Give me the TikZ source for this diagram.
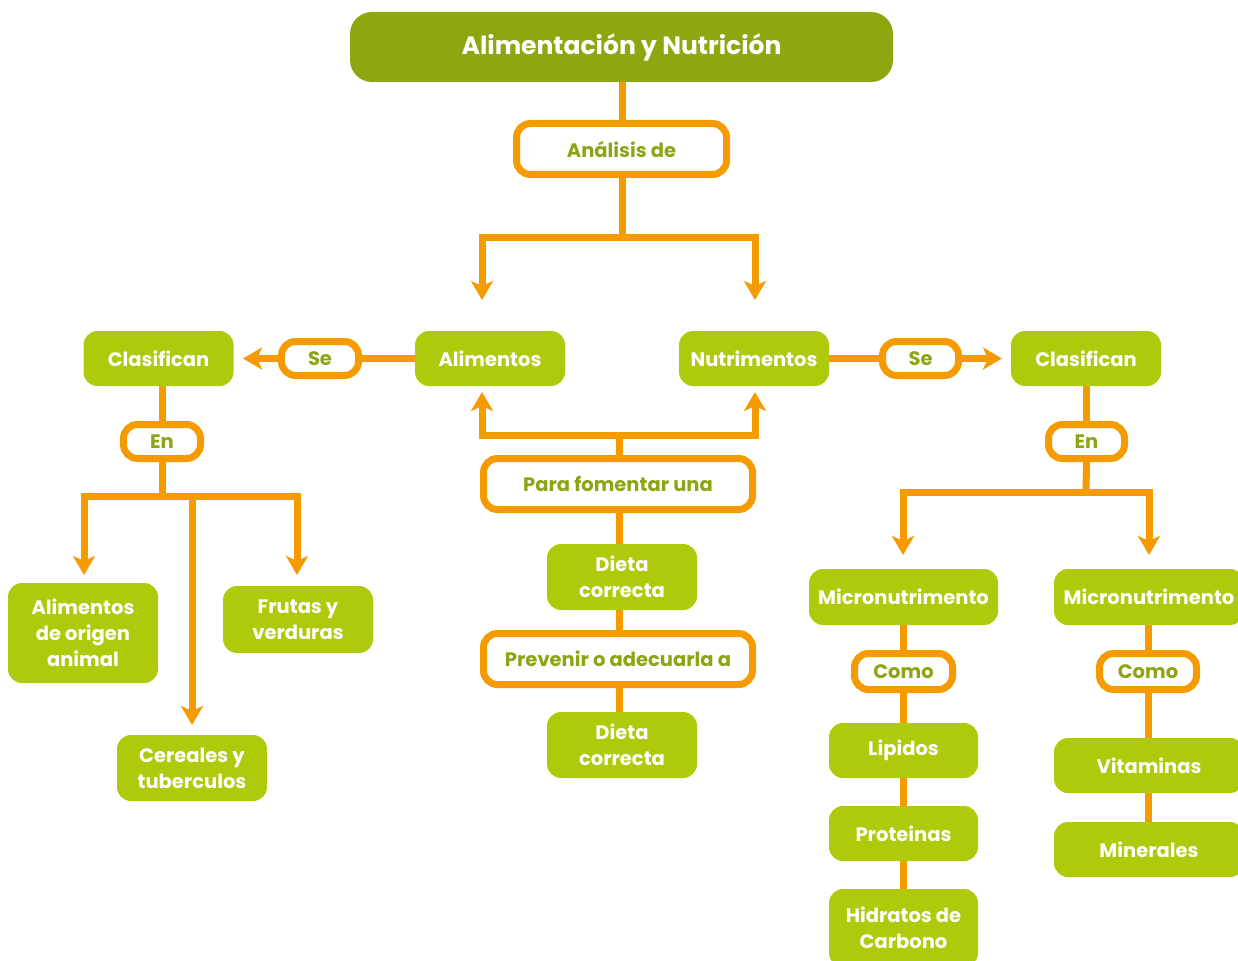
\documentclass[tikz,border=0pt]{standalone}
\usepackage{fontspec}
\setmainfont{Poppins}
\usetikzlibrary{arrows.meta,backgrounds}
\definecolor{org}{HTML}{F59B00}
\definecolor{lime}{HTML}{AFCA0B}
\definecolor{olive}{HTML}{8EA710}
\definecolor{labtext}{HTML}{8DA514}
\tikzset{
  gbox/.style={rectangle, rounded corners=14pt, fill=lime, text=white,
    font=\bfseries\fontsize{19.5}{26}\selectfont, align=center, inner sep=0pt},
  lbox/.style={rectangle, rounded corners=14pt, draw=org, line width=7pt, fill=white,
    text=labtext, font=\bfseries\fontsize{19.5}{22}\selectfont, align=center, inner sep=0pt},
  conn/.style={draw=org, line width=7pt},
  arr/.style={conn, -{Stealth[length=19pt, width=22pt, inset=5pt]}}
}
\begin{document}
\begin{tikzpicture}[x=1pt, y=-1pt]
\useasboundingbox (0,0) rectangle (1238,960);
\clip (0,0) rectangle (1238,960);

% title
\node[rectangle, rounded corners=22pt, fill=olive, text=white, inner sep=0pt,
  font=\bfseries\fontsize{25}{28}\selectfont,
  minimum width=543pt, minimum height=70pt] (title) at (621.5,47) {Alimentación y Nutrición};
\node[lbox, minimum width=210pt, minimum height=51pt] (analisis) at (621.5,149) {Análisis de};

% main concepts
\node[gbox, minimum width=150pt, minimum height=55pt] (alim) at (490,358.5) {Alimentos};
\node[gbox, minimum width=150pt, minimum height=55pt] (nutr) at (754,358.5) {Nutrimentos};
\node[gbox, minimum width=150pt, minimum height=55pt] (clasL) at (158.5,358.5) {Clasifican};
\node[gbox, minimum width=150pt, minimum height=55pt] (clasR) at (1086,358.5) {Clasifican};
\node[lbox, minimum width=77pt, minimum height=34pt] (seL) at (320,358.5) {Se};
\node[lbox, minimum width=76pt, minimum height=34pt] (seR) at (920.5,358.5) {Se};

% left branch
\node[lbox, minimum width=77pt, minimum height=34pt] (enL) at (162,441.5) {En};
\node[gbox, minimum width=150pt, minimum height=100pt] (animal) at (83,633) {Alimentos\\de origen\\animal};
\node[gbox, minimum width=150pt, minimum height=67pt] (frutas) at (298,619.5) {Frutas y\\verduras};
\node[gbox, minimum width=150pt, minimum height=66pt] (cereales) at (192,768) {Cereales y\\tuberculos};

% center column
\node[lbox, minimum width=269pt, minimum height=51pt] (para) at (618,484) {Para fomentar una};
\node[gbox, minimum width=150pt, minimum height=66pt] (dieta1) at (622,577) {Dieta\\correcta};
\node[lbox, minimum width=269pt, minimum height=51pt] (prev) at (618,659) {Prevenir o adecuarla a};
\node[gbox, minimum width=150pt, minimum height=66pt] (dieta2) at (622,745) {Dieta\\correcta};

% right branch
\node[lbox, minimum width=76pt, minimum height=34pt] (enR) at (1086.5,441.5) {En};
\node[gbox, minimum width=189pt, minimum height=56pt] (microL) at (903.5,597) {Micronutrimento};
\node[gbox, minimum width=190pt, minimum height=56pt] (microR) at (1149,597) {Micronutrimento};
\node[lbox, minimum width=98pt, minimum height=36pt] (comoL) at (903.5,671.5) {Como};
\node[lbox, minimum width=97pt, minimum height=36pt] (comoR) at (1148,671.5) {Como};
\node[gbox, minimum width=149pt, minimum height=55pt] (lip) at (903.5,750.5) {Lipidos};
\node[gbox, minimum width=149pt, minimum height=55pt] (prot) at (903.5,833.5) {Proteinas};
\node[gbox, minimum width=149pt, minimum height=78pt] (hidr) at (903.5,928) {Hidratos de\\Carbono};
\node[gbox, minimum width=190pt, minimum height=55pt] (vit) at (1149,765.5) {Vitaminas};
\node[gbox, minimum width=190pt, minimum height=55pt] (min) at (1149,849.5) {Minerales};

% junctions and arrow ends
\coordinate (jTop) at (622,237);
\coordinate (tAlim) at (482,300);
\coordinate (tNutr) at (755,300);
\coordinate (tClasL) at (243,358.5);
\coordinate (tClasR) at (1002,358.5);
\coordinate (jL) at (162,496);
\coordinate (tAnimal) at (84,575);
\coordinate (tFrutas) at (297,575);
\coordinate (jCer) at (192,496);
\coordinate (tCer) at (192,725);
\coordinate (jC) at (619,435);
\coordinate (tAlimUp) at (482,392);
\coordinate (tNutrUp) at (755,392);
\coordinate (jR) at (1086,492);
\coordinate (tMicroL) at (903,555);
\coordinate (tMicroR) at (1149,555);

\begin{scope}[on background layer]
  \draw[conn] (title.south -| jTop) -- (analisis.north -| jTop);
  \draw[conn] (analisis.south -| jTop) -- (jTop);
  \draw[arr] (jTop) -| (tAlim);
  \draw[arr] (jTop) -| (tNutr);

  \draw[conn] (alim.west) -- (seL.east);
  \draw[arr] (seL.west) -- (tClasL);
  \draw[conn] (nutr.east) -- (seR.west);
  \draw[arr] (seR.east) -- (tClasR);

  \draw[conn] (enL.north |- clasL.south) -- (enL.north);
  \draw[conn] (enL.south) -- (jL);
  \draw[arr] (jL) -| (tAnimal);
  \draw[arr] (jL) -| (tFrutas);
  \draw[arr] (jCer) -- (tCer);

  \draw[conn] (para.north -| jC) -- (jC);
  \draw[arr] (jC) -| (tAlimUp);
  \draw[arr] (jC) -| (tNutrUp);
  \draw[conn] (para.south -| jC) -- (dieta1.north -| jC);
  \draw[conn] (dieta1.south -| jC) -- (prev.north -| jC);
  \draw[conn] (prev.south -| jC) -- (dieta2.north -| jC);

  \draw[conn] (enR.north |- clasR.south) -- (enR.north);
  \draw[conn] (enR.south) -- (jR);
  \draw[arr] (jR) -| (tMicroL);
  \draw[arr] (jR) -| (tMicroR);

  \draw[conn] (microL.south) -- (comoL.north);
  \draw[conn] (comoL.south) -- (lip.north);
  \draw[conn] (lip.south) -- (prot.north);
  \draw[conn] (prot.south) -- (hidr.north);
  \draw[conn] (comoR.north |- microR.south) -- (comoR.north);
  \draw[conn] (comoR.south) -- (comoR.south |- vit.north);
  \draw[conn] (vit.south -| comoR) -- (min.north -| comoR);
\end{scope}
\end{tikzpicture}
\end{document}
